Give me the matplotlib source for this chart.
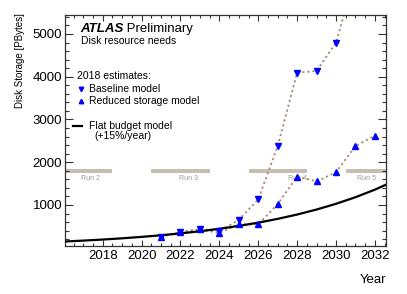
import matplotlib
matplotlib.use("Agg")
import matplotlib.pyplot as plt
from matplotlib.ticker import MultipleLocator

plt.rcParams["font.family"] = ["Liberation Sans", "DejaVu Sans"]

# values (PBytes)
baseline_years = [2021, 2022, 2023, 2024, 2025, 2026, 2027, 2028, 2029, 2030, 2031]
baseline_disk = [258, 368, 438, 390, 650, 1133, 2380, 4095, 4135, 4797, 6400]

reduced_years = [2021, 2022, 2023, 2024, 2025, 2026, 2027, 2028, 2029, 2030, 2031, 2032]
reduced_disk = [258, 368, 430, 345, 548, 548, 1023, 1662, 1554, 1765, 2380, 2622]

flat_years = [2016, 2017, 2018, 2019, 2020, 2021, 2022, 2023, 2024,
              2025, 2026, 2027, 2028, 2029, 2030, 2031, 2032, 2033]
flat_disk = [145, 167, 192, 221, 254, 292, 336, 386, 444,
             511, 587, 676, 777, 894, 1028, 1182, 1359, 1563]

run_names = ["Run 2", "Run 3", "Run 4", "Run 5"]
run_start = [2015.0, 2020.5, 2025.5, 2030.5]
run_end = [2018.5, 2023.5, 2028.5, 2034.0]
run_label_x = [2017.35, 2022.4, 2028.0, 2031.55]
RUN_BAR_Y = 1795
RUN_LABEL_Y = 1630

DOT_COLOR = "#a48a78"
RUN_COLOR = "#c6beb2"
MARKER_COLOR = "#0000ff"
AXIS_COLOR = "#333333"

fig = plt.figure(figsize=(4.07, 2.94), dpi=100)
ax = fig.add_axes([65 / 407, 48 / 294, 321 / 407, 231 / 294])

# LHC run periods
for name, x0, x1, xl in zip(run_names, run_start, run_end, run_label_x):
    ax.barh(RUN_BAR_Y, x1 - x0, left=x0, height=115, color=RUN_COLOR,
            edgecolor="none", zorder=1)
    ax.text(xl, RUN_LABEL_Y, name, ha="center", va="center", fontsize=5,
            color="#9a9a9a", zorder=1)

ax.plot(flat_years, flat_disk, color="black", linewidth=1.6, zorder=3)

ax.plot(baseline_years, baseline_disk, linestyle=(0, (1.2, 1.6)), color=DOT_COLOR,
        linewidth=1.3, zorder=2)
ax.plot(baseline_years, baseline_disk, linestyle="none", marker="v",
        markersize=4, color=MARKER_COLOR, zorder=4)
ax.plot(reduced_years, reduced_disk, linestyle=(0, (1.2, 1.6)), color=DOT_COLOR,
        linewidth=1.3, zorder=2)
ax.plot(reduced_years, reduced_disk, linestyle="none", marker="^",
        markersize=4, color=MARKER_COLOR, zorder=4)

ax.set_xlim(2016.06, 2032.57)
ax.set_ylim(41, 5444)
ax.set_xticks(range(2018, 2033, 2))
ax.xaxis.set_minor_locator(MultipleLocator(0.5))
ax.set_yticks(range(1000, 5001, 1000))
ax.yaxis.set_minor_locator(MultipleLocator(200))

ax.tick_params(axis="both", which="both", direction="in", top=True, right=True,
               colors=AXIS_COLOR, labelcolor="black", labelsize=9.5, width=0.8)
ax.tick_params(axis="y", which="major", length=5.8, pad=2)
ax.tick_params(axis="y", which="minor", length=2.9)
ax.tick_params(axis="x", which="major", length=4.5, pad=3)
ax.tick_params(axis="x", which="minor", length=2.3)
for spine in ax.spines.values():
    spine.set_color(AXIS_COLOR)
    spine.set_linewidth(0.9)

# labels, ROOT style (aligned to the axis ends)
fig.text(20 / 407, 1 - 13 / 294, "Disk Storage [PBytes]", rotation=90,
         ha="center", va="top", fontsize=7)
fig.text(386 / 407, 1 - 280 / 294, "Year", ha="right", va="center", fontsize=9.5)

# ATLAS label
t = ax.text(0.047, 0.939, "ATLAS", transform=ax.transAxes, fontsize=9.5,
            fontweight="bold", fontstyle="italic", ha="left", va="center")
ax.annotate(" Preliminary", xycoords=t, xy=(1, 0.5), va="center", ha="left",
            fontsize=9.5)
ax.text(0.050, 0.889, "Disk resource needs", transform=ax.transAxes,
        fontsize=7.5, ha="left", va="center")

# legend block
ax.text(0.037, 0.736, "2018 estimates:", transform=ax.transAxes, fontsize=7.5,
        ha="left", va="center")
ax.plot([0.050], [0.680], marker="v", markersize=3.2, color=MARKER_COLOR,
        transform=ax.transAxes, clip_on=False)
ax.text(0.075, 0.680, "Baseline model", transform=ax.transAxes, fontsize=7.5,
        ha="left", va="center")
ax.plot([0.050], [0.628], marker="^", markersize=3.2, color=MARKER_COLOR,
        transform=ax.transAxes, clip_on=False)
ax.text(0.075, 0.628, "Reduced storage model", transform=ax.transAxes,
        fontsize=7.5, ha="left", va="center")
ax.plot([0.025, 0.053], [0.519, 0.519], color="black", linewidth=1.6,
        transform=ax.transAxes)
ax.text(0.075, 0.519, "Flat budget model", transform=ax.transAxes,
        fontsize=7.5, ha="left", va="center")
ax.text(0.179, 0.476, "(+15%/year)", transform=ax.transAxes, fontsize=7.5,
        ha="center", va="center")

fig.savefig("out.png", dpi=100)
